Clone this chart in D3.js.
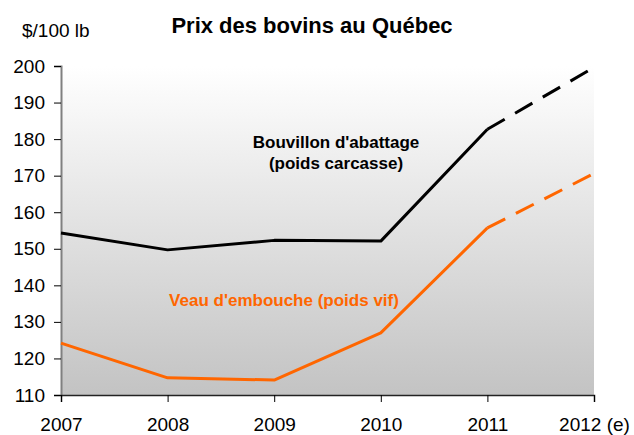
<!DOCTYPE html>
<html>
<head>
<meta charset="utf-8">
<script src="https://d3js.org/d3.v7.min.js"></script>
<style>
  body { margin: 0; background: #fff; }
  svg text { font-family: "Liberation Sans", Arial, sans-serif; }
</style>
</head>
<body>
<svg id="chart"></svg>
<script>
var years = ["2007", "2008", "2009", "2010", "2011", "2012 (e)"];
var bouvillon = [154.3, 149.7, 152.3, 152.1, 182.7, 199.6];
var veau = [124.2, 114.7, 114.1, 127.0, 155.7, 170.6];
var yTicks = [110, 120, 130, 140, 150, 160, 170, 180, 190, 200];

var width = 634, height = 435;
var plotLeft = 61, plotRight = 594, plotTop = 66, plotBottom = 395;

var svg = d3.select("#chart").attr("width", width).attr("height", height);

var x = d3.scalePoint().domain(years).range([plotLeft, plotRight]);
var y = d3.scaleLinear().domain([110, 200]).range([plotBottom, plotTop]);

var grad = svg.append("defs").append("linearGradient")
    .attr("id", "bg").attr("x1", 0).attr("y1", 0).attr("x2", 0).attr("y2", 1);
grad.append("stop").attr("offset", "0%").attr("stop-color", "#ffffff");
grad.append("stop").attr("offset", "100%").attr("stop-color", "#c3c3c3");

svg.append("rect")
    .attr("x", plotLeft).attr("y", plotTop)
    .attr("width", plotRight - plotLeft).attr("height", plotBottom - plotTop)
    .attr("fill", "url(#bg)");

// axes
var yAxis = svg.append("g")
    .attr("transform", "translate(" + plotLeft + ",0)")
    .call(d3.axisLeft(y).tickValues(yTicks).tickSize(7).tickPadding(9));
var xAxis = svg.append("g")
    .attr("transform", "translate(0," + plotBottom + ")")
    .call(d3.axisBottom(x).tickSize(7).tickPadding(16));

yAxis.select(".domain").attr("stroke", "#808080").attr("stroke-width", 2);
xAxis.select(".domain").attr("stroke", "#222").attr("stroke-width", 1.5);
[yAxis, xAxis].forEach(function(g) {
    g.selectAll(".tick line").attr("stroke", "#000");
    g.selectAll(".tick text").attr("font-size", 19).attr("fill", "#000");
});

// lines: solid up to 2011, dashed for the estimate
function drawSeries(vals, color) {
    var pts = years.map(function(d, i) { return [x(d), y(vals[i])]; });
    var line = d3.line();
    svg.append("path")
        .attr("d", line(pts.slice(0, 5)))
        .attr("fill", "none").attr("stroke", color)
        .attr("stroke-width", 3).attr("stroke-linejoin", "round");
    svg.append("path")
        .attr("d", line(pts.slice(4)))
        .attr("fill", "none").attr("stroke", color)
        .attr("stroke-width", 3).attr("stroke-dasharray", "20,12");
}
drawSeries(bouvillon, "#000");
drawSeries(veau, "#ff6600");

// titles and labels
svg.append("text").attr("x", 312).attr("y", 33)
    .attr("text-anchor", "middle").attr("font-size", 22).attr("font-weight", "bold")
    .text("Prix des bovins au Québec");
svg.append("text").attr("x", 22).attr("y", 37)
    .attr("font-size", 19).text("$/100 lb");

svg.append("text").attr("x", 336).attr("y", 148)
    .attr("text-anchor", "middle").attr("font-size", 17).attr("font-weight", "bold")
    .text("Bouvillon d'abattage");
svg.append("text").attr("x", 336).attr("y", 169)
    .attr("text-anchor", "middle").attr("font-size", 17).attr("font-weight", "bold")
    .text("(poids carcasse)");
svg.append("text").attr("x", 284).attr("y", 306)
    .attr("text-anchor", "middle").attr("font-size", 17).attr("font-weight", "bold")
    .attr("fill", "#ff6600")
    .text("Veau d'embouche (poids vif)");
</script>
</body>
</html>
